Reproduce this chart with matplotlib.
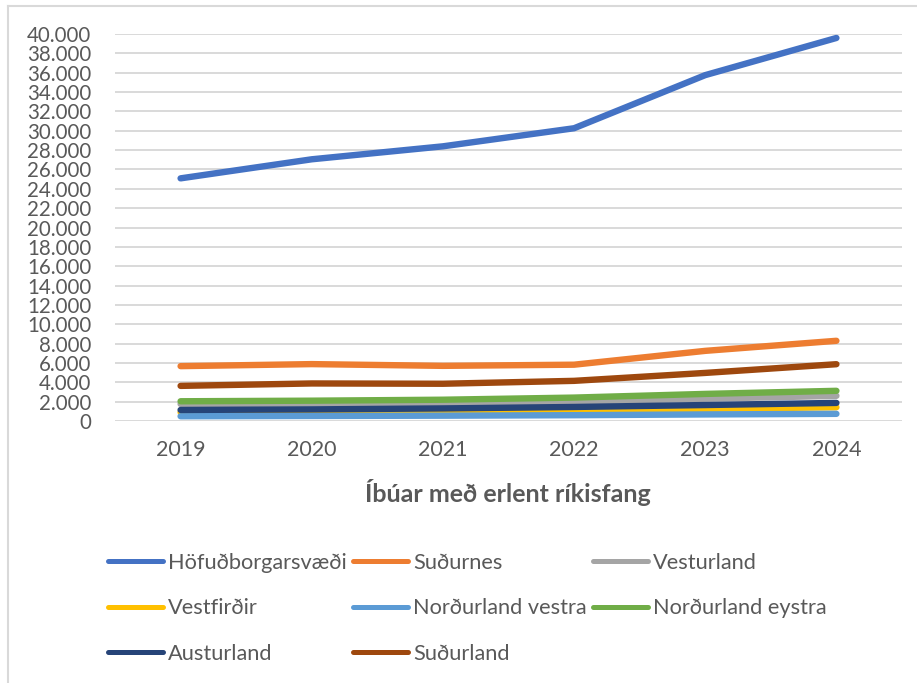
import matplotlib
matplotlib.use("Agg")
import matplotlib.pyplot as plt
from matplotlib.lines import Line2D
from matplotlib.ticker import FuncFormatter, MultipleLocator

years = ["2019", "2020", "2021", "2022", "2023", "2024"]

hofudborgarsvaedi = [25080, 27050, 28390, 30260, 35750, 39590]
sudurnes = [5670, 5880, 5700, 5820, 7250, 8290]
vesturland = [1760, 1800, 1850, 2000, 2300, 2600]
vestfirdir = [900, 950, 1000, 1100, 1250, 1420]
nordurland_vestra = [490, 520, 550, 600, 680, 740]
nordurland_eystra = [2040, 2100, 2200, 2420, 2800, 3120]
austurland = [1140, 1200, 1300, 1450, 1650, 1870]
sudurland = [3630, 3880, 3850, 4150, 4970, 5870]

series_names = ["Höfuðborgarsvæði", "Suðurnes", "Vesturland", "Vestfirðir",
                "Norðurland vestra", "Norðurland eystra", "Austurland", "Suðurland"]
series_values = [hofudborgarsvaedi, sudurnes, vesturland, vestfirdir,
                 nordurland_vestra, nordurland_eystra, austurland, sudurland]
colors = ["#4472C4", "#ED7D31", "#A5A5A5", "#FFC000",
          "#5B9BD5", "#70AD47", "#264478", "#9E480E"]

title = "Íbúar með erlent ríkisfang"

plt.rcParams['font.family'] = ['Lato', 'DejaVu Sans']
text_color = "#595959"

fig = plt.figure(figsize=(9.17, 6.83), dpi=100)
ax = fig.add_axes([115/917, 1-421/683, (902-115)/917, (421-34)/683])

x = list(range(len(years)))
for name, vals, c in zip(series_names, series_values, colors):
    ax.plot(x, vals, color=c, lw=4.6, solid_capstyle='round', label=name, zorder=3)

ax.set_xlim(-0.5, len(years) - 0.5)
ax.set_ylim(0, 40000)
ax.yaxis.set_major_locator(MultipleLocator(2000))
ax.yaxis.set_major_formatter(FuncFormatter(lambda v, p: f"{int(v):,}".replace(",", ".")))
ax.set_xticks(x)
ax.set_xticklabels(years)
ax.grid(axis='y', color='#D9D9D9', lw=1.4, zorder=0)
for s in ax.spines.values():
    s.set_visible(False)
ax.tick_params(axis='y', length=0, labelsize=14.8, colors=text_color, pad=17)
ax.tick_params(axis='x', length=0, labelsize=15.5, colors=text_color, pad=14)

fig.text(508/917, 1-493/683, title, ha='center', va='center',
         fontsize=18, fontweight='bold', color=text_color)

handles = [Line2D([0], [0], color=c, lw=3.6, solid_capstyle='round') for c in colors]
# order legend row-wise in 3 columns
order = [0, 3, 6, 1, 4, 7, 2, 5]
leg = fig.legend([handles[i] for i in order], [series_names[i] for i in order],
                 ncol=3, loc='upper left', bbox_to_anchor=(108/917, 1-553/683),
                 frameon=False, fontsize=15.7, handlelength=2.5, handletextpad=0.25,
                 columnspacing=0.3, labelspacing=1.16, labelcolor=text_color,
                 borderaxespad=0, borderpad=0)

# chart border (left and top visible)
fig.add_artist(Line2D([8/917, 8/917], [0, 1-6/683], color='#D9D9D9', lw=1.5,
                      transform=fig.transFigure))
fig.add_artist(Line2D([8/917, 1], [1-6/683, 1-6/683], color='#D9D9D9', lw=1.5,
                      transform=fig.transFigure))

fig.savefig("out.png", dpi=100)
